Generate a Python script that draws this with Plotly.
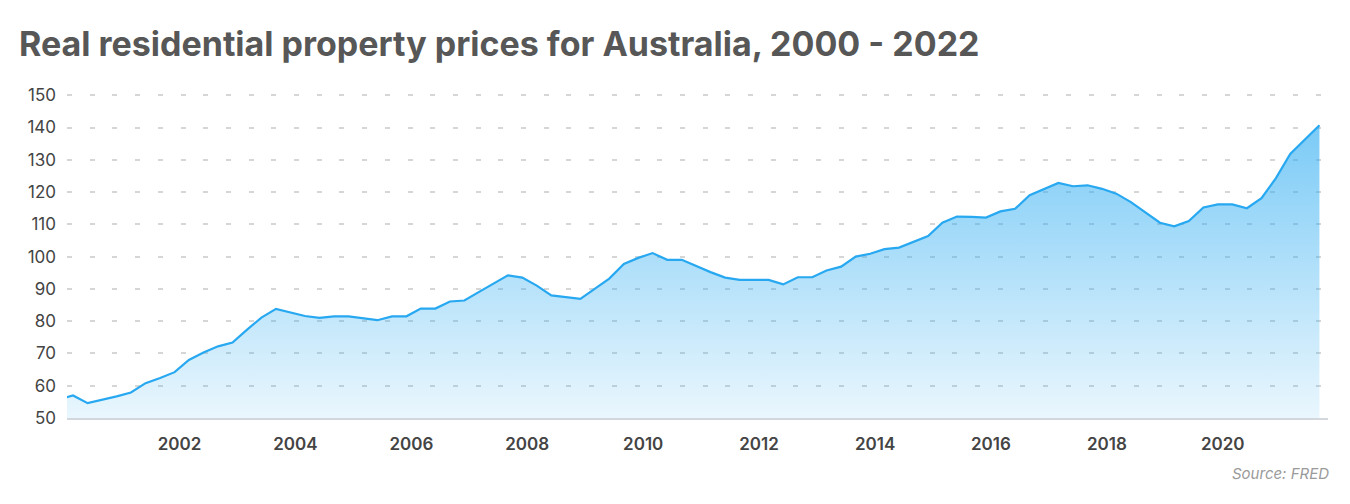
import pandas as pd
import plotly.graph_objects as go

# Quarterly index values (first point lies just before the visible range)
values = [55.8,
          57.0, 54.6, 55.6, 56.7, 57.9, 60.8, 62.4, 64.2, 68.0, 70.3,
          72.2, 73.4, 77.3, 81.1, 83.8, 82.7, 81.6, 81.0, 81.5, 81.5,
          81.0, 80.3, 81.5, 81.5, 83.9, 83.9, 86.1, 86.4, 89.0, 91.5,
          94.2, 93.5, 91.0, 88.0, 87.5, 86.9, 90.0, 93.2, 97.7, 99.6,
          101.1, 99.0, 99.0, 97.0, 95.2, 93.5, 92.8, 92.8, 92.8, 91.4,
          93.6, 93.6, 95.7, 96.9, 100.0, 100.9, 102.3, 102.8, 104.6, 106.4,
          110.5, 112.4, 112.3, 112.1, 114.0, 114.8, 119.0, 120.8, 122.8, 121.8,
          122.1, 121.0, 119.5, 116.9, 113.8, 110.5, 109.4, 111.0, 115.2, 116.2,
          116.2, 115.0, 118.1, 124.3, 131.8, 136.3, 140.7]
dates = pd.date_range("1999-12-01", periods=len(values), freq="3MS")

y_ticks = [50, 60, 70, 80, 90, 100, 110, 120, 130, 140, 150]
title_text = "Real residential property prices for Australia, 2000 - 2022"
source_text = "Source: FRED"

fig = go.Figure()
fig.add_trace(go.Scatter(
    x=dates, y=values, mode="lines",
    line=dict(color="#27a8f0", width=2.2),
    fill="tozeroy",
    fillgradient=dict(
        type="vertical", start=50, stop=141,
        colorscale=[[0, "rgba(41,170,241,0.10)"], [1, "rgba(41,170,241,0.62)"]],
    ),
    hoverinfo="skip", showlegend=False,
))

fig.update_layout(
    width=1350, height=504,
    margin=dict(l=67, r=22, t=92, b=86),
    paper_bgcolor="white", plot_bgcolor="white",
    font=dict(family="Inter, sans-serif", color="#444444"),
    title=dict(
        text=title_text, xref="container", yref="container",
        x=19 / 1350, xanchor="left", y=1 - 44 / 504, yanchor="middle",
        font=dict(family="Inter, sans-serif", size=34, weight=700, color="#575757"),
    ),
    xaxis=dict(
        type="date", range=["2000-01-23", "2021-10-25"],
        tick0="2002-01-01", dtick="M24", tickformat="%Y",
        showgrid=False, zeroline=False, ticks="",
        showline=True, linecolor="#d3d8de", linewidth=2,
        tickfont=dict(family="Inter, sans-serif", size=17, color="#444444", weight=600),
        ticklabelstandoff=10,
    ),
    yaxis=dict(
        range=[50, 151], tickvals=y_ticks, ticks="",
        showgrid=True, gridcolor="#d6d6d6", gridwidth=2, griddash="5px,17.7px",
        zeroline=False, showline=False,
        tickfont=dict(family="Inter, sans-serif", size=17, color="#444444", weight=400),
        ticklabelstandoff=10,
    ),
    annotations=[dict(
        text=source_text, xref="paper", yref="paper", x=1.002, y=(418 - 473) / 326,
        xanchor="right", yanchor="middle", showarrow=False,
        font=dict(family="Inter, sans-serif", size=15, color="#9a9a9a", style="italic"),
    )],
)

fig.write_html("out.html", config={"displayModeBar": False},
               post_script="document.body.style.margin='0';")
